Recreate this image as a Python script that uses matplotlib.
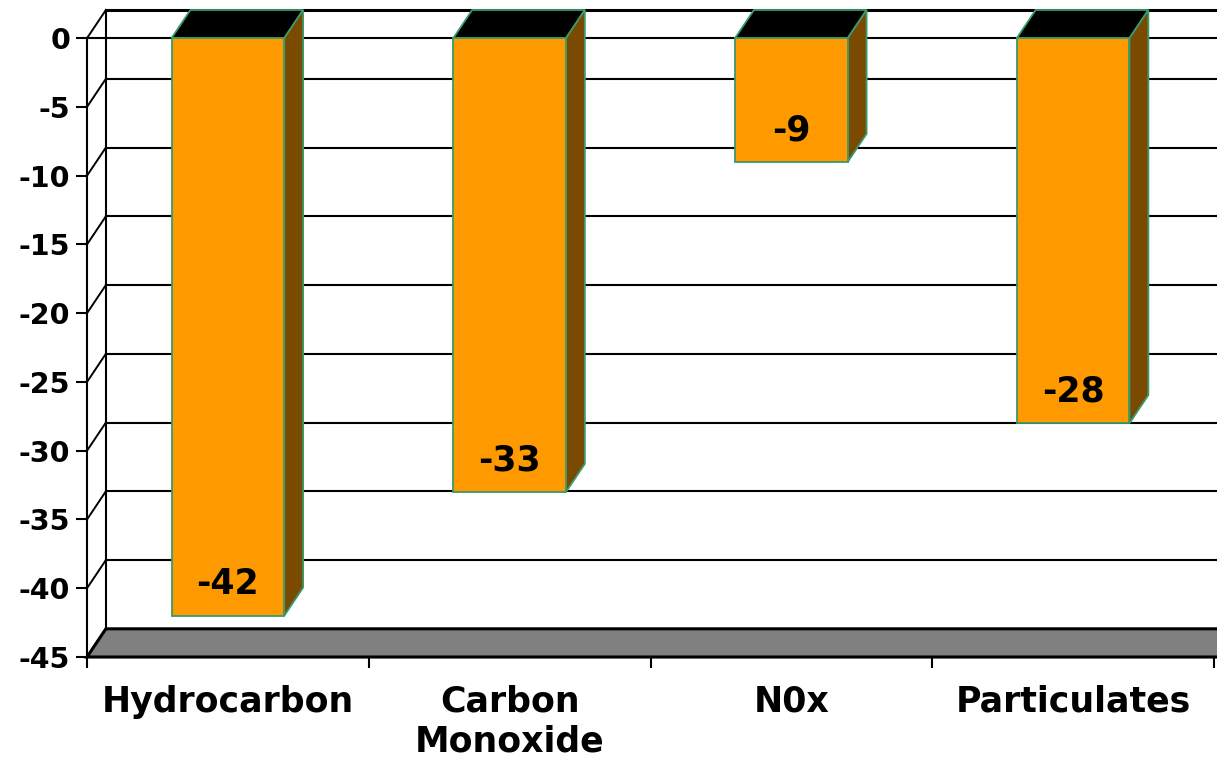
import numpy as np
import matplotlib.pyplot as plt
from matplotlib.patches import Polygon

categories = ["Hydrocarbon", "Carbon\nMonoxide", "N0x", "Particulates"]
values = [-42, -33, -9, -28]
yticks = [0, -5, -10, -15, -20, -25, -30, -35, -40, -45]

# fake 3d depth, in data units
DX = 0.067
DY = 2.05
BAR_W = 0.4
FLOOR = -45

FRONT = "#FF9900"
SIDE = "#7A4A00"
EDGE = "#3A9A6A"

fig = plt.figure(figsize=(12.17, 7.61), dpi=100)
ax = fig.add_axes([87 / 1217, 104 / 761, 1127 / 1217, 647 / 761])
ax.set_xlim(-0.5, 3.5)
ax.set_ylim(FLOOR, DY)

x = np.arange(len(categories))
left, right = -0.5, len(categories) - 0.5

# back wall grid + side wall diagonals
for v in yticks:
    if v == FLOOR:
        continue
    lw = 2.2 if v == 0 else 1.5
    ax.plot([left + DX, right + DX + 0.1], [v + DY, v + DY], color="black",
            lw=lw, zorder=1, clip_on=False)
for v in yticks:
    ax.plot([left, left + DX], [v, v + DY], color="black", lw=1.4,
            zorder=1, clip_on=False)
ax.plot([left + DX, left + DX], [FLOOR + DY, DY], color="black", lw=1.5,
        zorder=1, clip_on=False)

# floor
floor = Polygon([(left, FLOOR), (right + 0.1, FLOOR), (right + DX + 0.1, FLOOR + DY),
                 (left + DX, FLOOR + DY)], closed=True, facecolor="#808080",
                edgecolor="black", lw=2.2, zorder=2, clip_on=False)
ax.add_patch(floor)

# zero line at the front
ax.plot([left, right + DX + 0.1], [0, 0], color="black", lw=1.5, zorder=2,
        clip_on=False)

# bars: front face, top and side
ax.bar(x, values, width=BAR_W, color=FRONT, edgecolor=EDGE, lw=1.3, zorder=4)
for xi, v in zip(x, values):
    x0, x1 = xi - BAR_W / 2, xi + BAR_W / 2
    top = Polygon([(x0, 0), (x1, 0), (x1 + DX, DY), (x0 + DX, DY)], closed=True,
                  facecolor="black", edgecolor=EDGE, lw=1.3, zorder=3, clip_on=False)
    side = Polygon([(x1, 0), (x1 + DX, DY), (x1 + DX, v + DY), (x1, v)], closed=True,
                   facecolor=SIDE, edgecolor=EDGE, lw=1.3, zorder=3, clip_on=False)
    ax.add_patch(top)
    ax.add_patch(side)
    ax.annotate(f"{v}", (xi, v), xytext=(0, 23), textcoords="offset points",
                ha="center", va="center", fontsize=25, fontweight="bold", zorder=5)

for s in ["top", "right"]:
    ax.spines[s].set_visible(False)
ax.spines["left"].set_bounds(FLOOR, 0)
ax.spines["left"].set_linewidth(1.5)
ax.spines["bottom"].set_linewidth(1.5)
ax.spines["left"].set_zorder(2)

ax.set_yticks(yticks)
ax.set_yticklabels([str(t) for t in yticks], fontsize=20.5, fontweight="bold")
ax.tick_params(axis="y", length=8, width=1.5, pad=4)

ax.set_xticks(np.arange(len(categories) + 1) - 0.5)
ax.set_xticklabels([])
ax.set_xticks(x, minor=True)
ax.set_xticklabels(categories, minor=True, fontsize=25, fontweight="bold",
                   linespacing=1.2)
ax.tick_params(axis="x", which="major", length=8, width=1.5)
ax.tick_params(axis="x", which="minor", length=0, pad=20)

fig.savefig("out.png", dpi=100)
